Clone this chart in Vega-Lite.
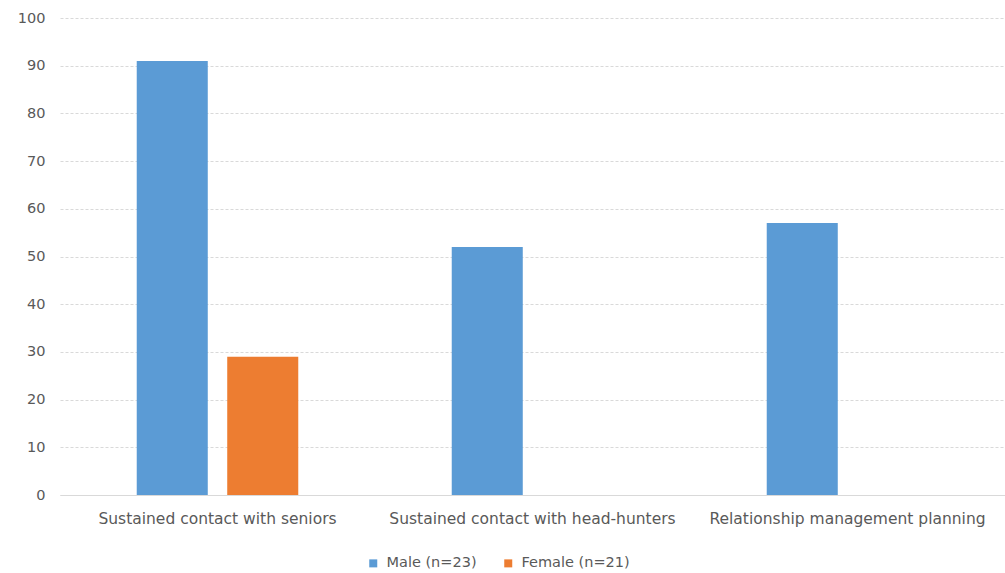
{
  "$schema": "https://vega.github.io/schema/vega-lite/v6.json",
  "autosize": "none",
  "width": 945,
  "height": 477,
  "padding": {"left": 60, "top": 18, "right": 0, "bottom": 78},
  "background": "white",
  "data": {"values": [
    {"category": "Sustained contact with seniors", "group": "Male (n=23)", "value": 91},
    {"category": "Sustained contact with seniors", "group": "Female (n=21)", "value": 29},
    {"category": "Sustained contact with head-hunters", "group": "Male (n=23)", "value": 52},
    {"category": "Sustained contact with head-hunters", "group": "Female (n=21)", "value": 0},
    {"category": "Relationship management planning", "group": "Male (n=23)", "value": 57},
    {"category": "Relationship management planning", "group": "Female (n=21)", "value": 0}
  ]},
  "mark": {"type": "bar"},
  "encoding": {
    "x": {"field": "category", "type": "nominal", "sort": null, "title": null,
      "scale": {"paddingInner": 0, "paddingOuter": 0},
      "axis": {"labelAngle": 0, "ticks": false, "domainColor": "#d9d9d9", "labelColor": "#595959", "labelFontSize": 15.5, "labelFont": "DejaVu Sans", "labelPadding": 16, "labelLimit": 0, "grid": false}},
    "xOffset": {"field": "group", "type": "nominal", "sort": ["Male (n=23)", "Female (n=21)"],
      "scale": {"paddingInner": 0.215, "paddingOuter": 0.848}},
    "y": {"field": "value", "type": "quantitative", "title": null,
      "scale": {"domain": [0, 100], "nice": false},
      "axis": {"values": [0,10,20,30,40,50,60,70,80,90,100], "domain": false, "ticks": false, "labelColor": "#595959", "labelFontSize": 14.5, "labelFont": "DejaVu Sans", "labelPadding": 15, "gridColor": "#d9d9d9", "gridDash": [3, 2]}},
    "color": {"field": "group", "type": "nominal", "sort": ["Male (n=23)", "Female (n=21)"],
      "scale": {"domain": ["Male (n=23)", "Female (n=21)"], "range": ["#5b9bd5", "#ed7d31"]},
      "legend": {"title": null, "orient": "none", "direction": "horizontal", "legendX": 306, "legendY": 538, "symbolType": "square", "symbolSize": 64, "symbolStrokeWidth": 0, "labelColor": "#595959", "labelFontSize": 14.5, "labelFont": "DejaVu Sans", "columnPadding": 24, "labelOffset": 6}}
  },
  "config": {"view": {"stroke": null}}
}
